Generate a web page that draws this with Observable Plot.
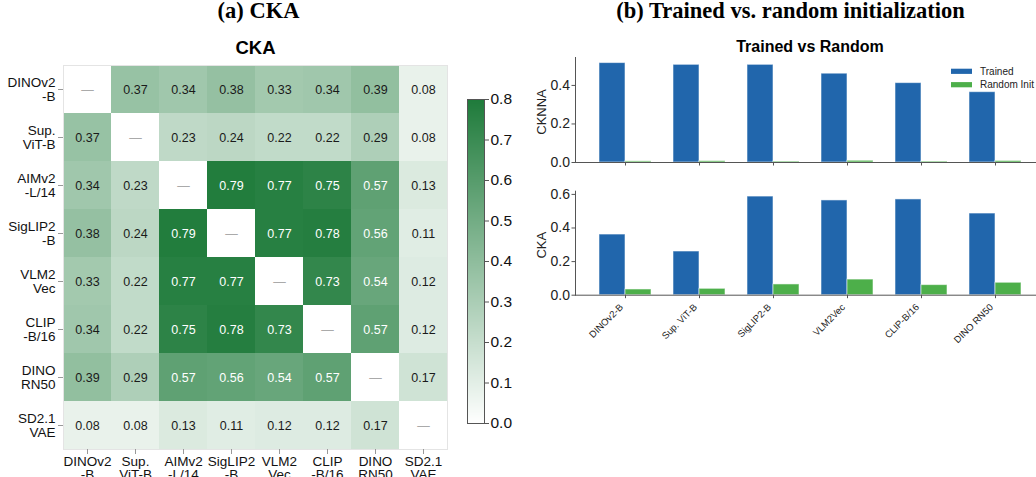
<!DOCTYPE html>
<html><head><meta charset="utf-8">
<script src="https://cdn.jsdelivr.net/npm/d3@7"></script>
<script src="https://cdn.jsdelivr.net/npm/@observablehq/plot@0.6"></script>
<style>
html,body{margin:0;padding:0;background:#fff;overflow:hidden}
#root{position:relative;width:1036px;height:477px;overflow:hidden;font-family:"Liberation Sans",Arial,Helvetica,sans-serif}
#root > svg{position:absolute;top:0}
</style></head><body><div id="root"></div>
<script>
// ---------- data ----------
const heatModels = ["DINOv2\n-B","Sup.\nViT-B","AIMv2\n-L/14","SigLIP2\n-B","VLM2\nVec","CLIP\n-B/16","DINO\nRN50","SD2.1\nVAE"];
const rowDINOv2  = [null,0.37,0.34,0.38,0.33,0.34,0.39,0.08];
const rowSupViT  = [0.37,null,0.23,0.24,0.22,0.22,0.29,0.08];
const rowAIMv2   = [0.34,0.23,null,0.79,0.77,0.75,0.57,0.13];
const rowSigLIP2 = [0.38,0.24,0.79,null,0.77,0.78,0.56,0.11];
const rowVLM2Vec = [0.33,0.22,0.77,0.77,null,0.73,0.54,0.12];
const rowCLIP    = [0.34,0.22,0.75,0.78,0.73,null,0.57,0.12];
const rowDINORN  = [0.39,0.29,0.57,0.56,0.54,0.57,null,0.17];
const rowSDVAE   = [0.08,0.08,0.13,0.11,0.12,0.12,0.17,null];
const heatRows = [rowDINOv2,rowSupViT,rowAIMv2,rowSigLIP2,rowVLM2Vec,rowCLIP,rowDINORN,rowSDVAE];
const colorbarTicks = [0,0.1,0.2,0.3,0.4,0.5,0.6,0.7,0.8];

const barModels = ["DINOv2-B","Sup. ViT-B","SigLIP2-B","VLM2Vec","CLIP-B/16","DINO RN50"];
const cknnaTrained = [0.516,0.507,0.507,0.461,0.412,0.365];
const cknnaRandom  = [0.006,0.007,0.005,0.009,0.005,0.008];
const ckaTrained   = [0.361,0.260,0.587,0.564,0.570,0.486];
const ckaRandom    = [0.034,0.038,0.064,0.093,0.060,0.074];
const cknnaTicks = [0,0.2,0.4];
const ckaTicks = [0,0.2,0.4,0.6];
const seriesNames = ["Trained","Random Init"];

// ---------- styles ----------
const FONT = '"Liberation Sans", Arial, Helvetica, sans-serif';
const SERIF = '"Liberation Serif", "Times New Roman", serif';
const greenRange = ["#ffffff","#1f7b3b"];
const BLUE = "#2166ac", GREEN = "#4daf4a";
const root = document.getElementById("root");

// ---------- heatmap ----------
const cells = [];
heatRows.forEach((row,i) => row.forEach((v,j) => cells.push({row: heatModels[i], col: heatModels[j], v})));
const colorOpts = {type:"linear", domain:[0,0.8], range: greenRange, interpolate:"rgb"};

const heat = Plot.plot({
  width: 460, height: 477,
  marginLeft: 63, marginRight: 13, marginTop: 65, marginBottom: 28,
  style: {fontFamily: FONT, background: "transparent", overflow: "visible", color:"#111"},
  x: {domain: heatModels, padding: 0, label: null},
  y: {domain: heatModels, padding: 0, label: null},
  color: colorOpts,
  marks: [
    Plot.cell(cells.filter(d => d.v != null), {x:"col", y:"row", fill:"v"}),
    Plot.frame({stroke:"#e4e4e4"}),
    Plot.text(cells.filter(d => d.v != null && d.v >= 0.5), {x:"col", y:"row", text: d => d.v.toFixed(2), fill:"white", fontSize:12.5}),
    Plot.text(cells.filter(d => d.v != null && d.v < 0.5), {x:"col", y:"row", text: d => d.v.toFixed(2), fill:"#1a1a1a", fontSize:12.5}),
    Plot.text(cells.filter(d => d.v == null), {x:"col", y:"row", text: () => "—", fill:"#aaaaaa", fontSize:12.5}),
    Plot.axisY({anchor:"left", tickSize:5, tickPadding:3, stroke:"#999", fill:"#111", fontSize:13.5, label:null}),
    Plot.axisX({anchor:"bottom", tickSize:5, tickPadding:2, lineHeight:0.96, stroke:"#999", fill:"#111", fontSize:13.5, label:null})
  ]
});
heat.style.left = "0px";
root.appendChild(heat);

// ---------- colorbar ----------
const cbar = Plot.plot({
  width: 80, height: 477,
  marginLeft: 27, marginRight: 36, marginTop: 99, marginBottom: 54,
  style: {fontFamily: FONT, background: "transparent", overflow: "visible", color:"#111"},
  x: {domain:[0,1], axis:null},
  y: {domain:[0,0.8], label:null},
  color: colorOpts,
  marks: [
    Plot.raster({fill: (x, y) => y, x1:0, x2:1, y1:0, y2:0.8, width:1, height:324, imageRendering:"auto"}),
    Plot.frame({stroke:"#555"}),
    Plot.axisY({anchor:"right", ticks: colorbarTicks, tickFormat: d => d.toFixed(1), tickSize:4, tickPadding:2, fontSize:15.5, stroke:"#555", fill:"#111", label:null})
  ]
});
cbar.style.left = "440px";
root.appendChild(cbar);

// ---------- bar charts ----------
function barChart(trained, random, label, ymax, ticks, top, bottom, showLabels) {
  const rows = barModels.map((m,i) => ({model:m, trained: trained[i], random: random[i]}));
  const svg = Plot.plot({
    width: 530, height: 477,
    marginLeft: 55, marginRight: 6, marginTop: top, marginBottom: 477 - bottom,
    style: {fontFamily: FONT, background: "transparent", overflow: "visible", color:"#222"},
    x: {domain: barModels, paddingInner: 0.304, paddingOuter: 0.291, label: null},
    y: {domain: [0, ymax], label: null},
    marks: [
      Plot.barY(rows, {x:"model", y:"trained", fill: BLUE, insetRight: 26, stroke:"white", strokeOpacity:0.55, strokeWidth:1}),
      Plot.barY(rows, {x:"model", y:"random", fill: GREEN, insetLeft: 26, stroke:"white", strokeOpacity:0.55, strokeWidth:1}),
      Plot.frame({anchor:"left", stroke:"#555"}),
      Plot.frame({anchor:"bottom", stroke:"#555"}),
      Plot.axisY({anchor:"left", ticks, tickFormat: d => d.toFixed(1), tickSize:3.5, tickPadding:2, fontSize:14, stroke:"#555", fill:"#222", label:null}),
      Plot.axisX({anchor:"bottom", tickSize:3.5, stroke:"#555", fill:"none", label:null}),
      showLabels
        ? Plot.axisX({anchor:"bottom", tickSize:0, tickPadding:4.5, tickRotate:-45, fontSize:9.5, dx:-4, dy:6, fill:"#222", label:null})
        : null,
      Plot.text([label], {frameAnchor:"left", textAnchor:"middle", dx:-34, dy:2, rotate:-90, fontSize:13, fill:"#222"})
    ]
  });
  svg.style.left = "520px";
  root.appendChild(svg);
}
barChart(cknnaTrained, cknnaRandom, "CKNNA", 0.545, cknnaTicks, 57, 162, false);
barChart(ckaTrained, ckaRandom, "CKA", 0.619, ckaTicks, 190.7, 294.7, true);

// ---------- titles & legend (overlay) ----------
const ov = d3.create("svg").attr("width", 1036).attr("height", 477).style("left","0px").style("pointer-events","none");
ov.append("text").attr("x", 258.5).attr("y", 17.5).attr("text-anchor","middle")
  .attr("font-family", SERIF).attr("font-weight","bold").attr("font-size", 22.5).attr("fill","#000").text("(a) CKA");
ov.append("text").attr("x", 790.5).attr("y", 17.5).attr("text-anchor","middle")
  .attr("font-family", SERIF).attr("font-weight","bold").attr("font-size", 22.5).attr("fill","#000").text("(b) Trained vs. random initialization");
ov.append("text").attr("x", 255.5).attr("y", 54).attr("text-anchor","middle")
  .attr("font-family", FONT).attr("font-weight","bold").attr("font-size", 18.5).attr("fill","#000").text("CKA");
ov.append("text").attr("x", 810).attr("y", 51.5).attr("text-anchor","middle")
  .attr("font-family", FONT).attr("font-weight","bold").attr("font-size", 16).attr("fill","#000").text("Trained vs Random");
const legColors = [BLUE, GREEN];
seriesNames.forEach((name, i) => {
  const cy = 71.3 + i * 13.4;
  ov.append("rect").attr("x", 951).attr("y", cy - 2.6).attr("width", 21).attr("height", 5.2).attr("fill", legColors[i]);
  ov.append("text").attr("x", 980).attr("y", cy + 3.6).attr("font-family", FONT).attr("font-size", 10).attr("fill","#222").text(name);
});
root.appendChild(ov.node());
</script>
</body></html>
